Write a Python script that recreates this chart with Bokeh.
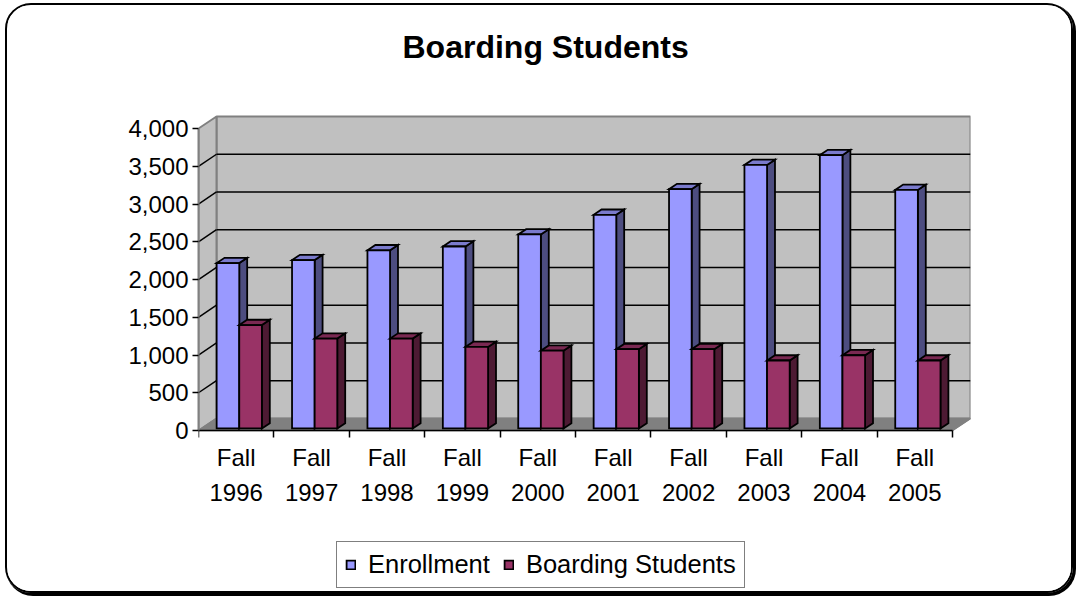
from bokeh.plotting import figure
from bokeh.models import Range1d, FixedTicker, Legend, LegendItem, Label
from bokeh.embed import file_html
from bokeh.resources import INLINE

# ---------------- data ----------------
categories = ["Fall\n1996", "Fall\n1997", "Fall\n1998", "Fall\n1999", "Fall\n2000",
              "Fall\n2001", "Fall\n2002", "Fall\n2003", "Fall\n2004", "Fall\n2005"]
enrollment = [2190, 2230, 2360, 2410, 2570, 2830, 3170, 3490, 3620, 3160]
boarding = [1370, 1190, 1190, 1080, 1030, 1050, 1050, 900, 970, 900]
series_names = ["Enrollment", "Boarding Students"]
y_ticks = [0, 500, 1000, 1500, 2000, 2500, 3000, 3500, 4000]
y_tick_labels = ["0", "500", "1,000", "1,500", "2,000", "2,500", "3,000", "3,500", "4,000"]
title_text = "Boarding Students"

# ---------------- geometry / style ----------------
N = len(categories)
YMAX = y_ticks[-1]
DX = 0.2387      # depth offset of the back wall (category units)
DY = 159.0       # depth offset of the back wall (value units)
ORIG_X, ORIG_Y = 7, 5          # page position of the canvas (CSS margin + border)
F_LEFT = 198                   # page x of the frame / category 0
F_TOP, F_BOTTOM = 10, 591      # frame spans title to legend
ZERO_Y = 430                   # page y of value 0
WALL_TOP = 116                 # page y of the top of the back wall
PX_X = 75.4                    # px per category
PX_Y = (ZERO_Y - WALL_TOP) / (YMAX + DY)   # px per value unit
FRAME_W = round((N + DX) * PX_X)
FRAME_H = F_BOTTOM - F_TOP
FIG_W = 1064
Y_START = -(F_BOTTOM - ZERO_Y) / PX_Y
Y_END = (ZERO_Y - F_TOP) / PX_Y


def xd(px):
    return (px - F_LEFT) / PX_X


def yd(py):
    return (ZERO_Y - py) / PX_Y


FONT = "Liberation Sans"
BW = 0.3          # bar width
D1 = 0.17         # depth of bar front faces
BD = 0.44         # bar depth
WALL = "#C0C0C0"
FLOOR = "#808080"
EDGE = "#808080"
COLORS = {
    "Enrollment": ("#9999FF", "#4D4D80", "#7A7ACC"),
    "Boarding Students": ("#993366", "#4D1A33", "#7A2952"),
}

mbl = F_LEFT - ORIG_X
p = figure(frame_width=FRAME_W, frame_height=FRAME_H,
           x_range=Range1d(0, N + DX), y_range=Range1d(Y_START, Y_END),
           output_backend="svg", toolbar_location=None,
           min_border_left=mbl, min_border_right=FIG_W - FRAME_W - mbl,
           min_border_top=F_TOP - ORIG_Y, min_border_bottom=0)
p.styles = {"border": "2px solid black", "border-radius": "26px",
            "box-shadow": "2px 2px 0px 1px black", "overflow": "hidden",
            "margin-left": "5px", "margin-top": "3px"}
p.outline_line_color = None
p.xgrid.visible = False
p.ygrid.visible = False
p.background_fill_color = "white"
p.border_fill_color = "white"

# title (inside the frame area, above the chart)
p.add_layout(Label(x=xd(402), y=yd(46), text=title_text, text_align="left",
                   text_baseline="middle", text_font=FONT, text_font_style="bold",
                   text_font_size="32px", text_color="black"))

# walls and floor
p.quad(left=[DX], right=[N + DX], bottom=[DY], top=[YMAX + DY],
       fill_color=WALL, line_color=EDGE, line_width=2)
p.patch([0, 0, DX, DX], [0, YMAX, YMAX + DY, DY],
        fill_color=WALL, line_color=EDGE, line_width=2)
p.patch([0, DX, N + DX, N], [0, DY, DY, 0],
        fill_color=FLOOR, line_color=EDGE, line_width=1.5)

# gridlines on back wall and side wall
g = [v for v in y_ticks if 0 < v < YMAX]
p.segment(x0=[DX] * len(g), y0=[v + DY for v in g], x1=[N + DX] * len(g),
          y1=[v + DY for v in g], line_color="black", line_width=1.5)
p.segment(x0=[0] * len(g), y0=g, x1=[DX] * len(g), y1=[v + DY for v in g],
          line_color="black", line_width=1.5)


def draw_bars(vals, off, name):
    front, side, topc = COLORS[name]
    left = [i + off + D1 * DX for i in range(N)]
    right = [l + BW for l in left]
    bottom = D1 * DY
    top = [v + D1 * DY for v in vals]
    sxs = [[r, r + BD * DX, r + BD * DX, r] for r in right]
    sys_ = [[bottom, bottom + BD * DY, t + BD * DY, t] for t in top]
    txs = [[l, r, r + BD * DX, l + BD * DX] for l, r in zip(left, right)]
    tys = [[t, t, t + BD * DY, t + BD * DY] for t in top]
    p.patches(sxs, sys_, fill_color=side, line_color="black", line_width=1.8,
              line_join="miter")
    p.patches(txs, tys, fill_color=topc, line_color="black", line_width=1.8,
              line_join="miter")
    return p.quad(left=left, right=right, bottom=[bottom] * N, top=top,
                  fill_color=front, line_color="black", line_width=1.8,
                  line_join="miter")


r_enr = draw_bars(enrollment, 0.2, series_names[0])
r_brd = draw_bars(boarding, 0.5, series_names[1])

# right edge of floor
p.segment(x0=[N], y0=[0], x1=[N + DX], y1=[DY], line_color=EDGE, line_width=1.5)

# axes
xa = p.xaxis[0]
xa.fixed_location = 0
xa.ticker = FixedTicker(ticks=[i + 0.5 for i in range(N)],
                        minor_ticks=list(range(N + 1)))
xa.major_label_overrides = {i + 0.5: c for i, c in enumerate(categories)}
xa.bounds = (0, N)
xa.axis_line_color = "black"
xa.axis_line_width = 1.5
xa.major_tick_line_color = None
xa.major_tick_out = 0
xa.major_tick_in = 0
xa.minor_tick_line_color = "black"
xa.minor_tick_line_width = 1.5
xa.minor_tick_out = 7
xa.minor_tick_in = 0
xa.major_label_text_font = FONT
xa.major_label_text_font_size = "24px"
xa.major_label_text_color = "black"
xa.major_label_text_line_height = 1.3
xa.major_label_standoff = 6

ya = p.yaxis[0]
ya.ticker = FixedTicker(ticks=y_ticks, minor_ticks=[])
ya.major_label_overrides = {v: s for v, s in zip(y_ticks, y_tick_labels)}
ya.bounds = (0, YMAX)
ya.axis_line_color = EDGE
ya.axis_line_width = 2
ya.major_tick_line_color = "black"
ya.major_tick_line_width = 1.5
ya.major_tick_out = 6
ya.major_tick_in = 0
ya.minor_tick_line_color = None
ya.major_label_text_font = FONT
ya.major_label_text_font_size = "24px"
ya.major_label_text_color = "black"
ya.major_label_standoff = 4

# legend (inside the frame, below the chart)
legend = Legend(items=[LegendItem(label=series_names[0], renderers=[r_enr]),
                       LegendItem(label=series_names[1], renderers=[r_brd])],
                orientation="horizontal", location=(336 - F_LEFT, F_BOTTOM - 588),
                border_line_color="black", border_line_width=1.3,
                background_fill_color="white", background_fill_alpha=1,
                label_text_font=FONT, label_text_font_size="25.5px",
                label_text_color="black",
                glyph_width=11, glyph_height=11, padding=8, spacing=13,
                label_standoff=12, margin=0)
p.add_layout(legend)

open("out.html", "w").write(file_html(p, INLINE))
